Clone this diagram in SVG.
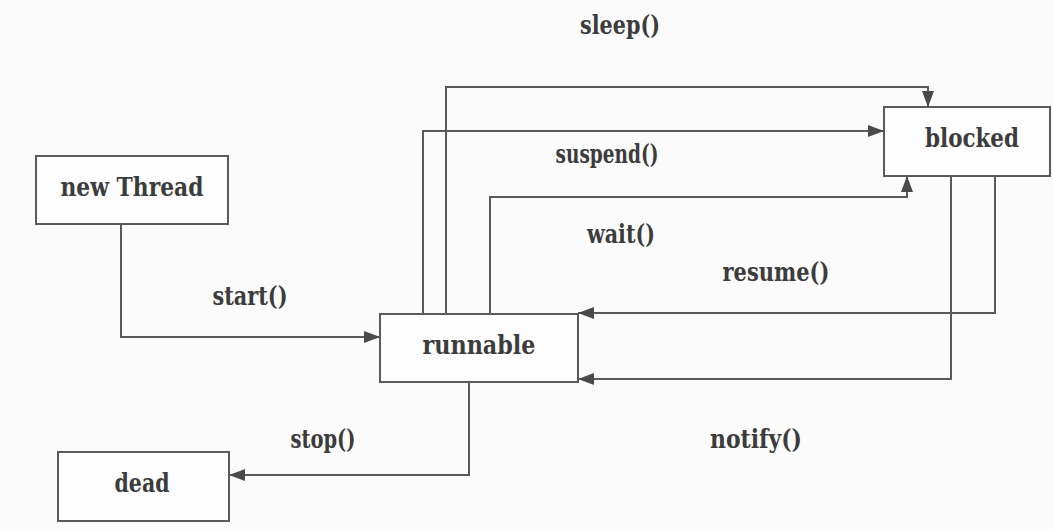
<svg xmlns="http://www.w3.org/2000/svg" width="1053" height="529" viewBox="0 0 1053 529">
<style>
.box{fill:#fdfdfd;stroke:#5a5a5a;stroke-width:2}
.t{font-family:'DejaVu Serif','Liberation Serif',serif;font-weight:bold;font-size:26px;fill:#3c3c3c;text-anchor:middle}
.c{fill:none;stroke:#5a5a5a;stroke-width:2;marker-end:url(#ah)}
</style>
<defs>
<marker id="ah" viewBox="0 0 16 12" refX="16" refY="6" markerWidth="16" markerHeight="12" markerUnits="userSpaceOnUse" orient="auto">
<path d="M0,0 L16,6 L0,12 Z" fill="#4a4a4a"/>
</marker>
</defs>
<rect width="1053" height="529" fill="#fbfbfb"/>
<g id="connectors">
<polyline class="c" points="121,224 121,337 380,337"/>
<polyline class="c" points="446,314 446,87 928,87 928,107"/>
<polyline class="c" points="423,314 423,131 884,131"/>
<polyline class="c" points="490,314 490,197 907,197 907,176"/>
<polyline class="c" points="995,176 995,313 578,313"/>
<polyline class="c" points="951,176 951,379 578,379"/>
<polyline class="c" points="469,382 469,475 229,475"/>
<text class="t" x="620" y="34" textLength="80" lengthAdjust="spacingAndGlyphs">sleep()</text>
<text class="t" x="607" y="163" textLength="103" lengthAdjust="spacingAndGlyphs">suspend()</text>
<text class="t" x="621" y="243" textLength="68" lengthAdjust="spacingAndGlyphs">wait()</text>
<text class="t" x="776" y="281" textLength="107" lengthAdjust="spacingAndGlyphs">resume()</text>
<text class="t" x="250" y="305" textLength="75" lengthAdjust="spacingAndGlyphs">start()</text>
<text class="t" x="323" y="448" textLength="65" lengthAdjust="spacingAndGlyphs">stop()</text>
<text class="t" x="756" y="448" textLength="92" lengthAdjust="spacingAndGlyphs">notify()</text>
</g>
<g id="newThread">
<rect class="box" x="36" y="156" width="192" height="68"/>
<text class="t" x="132" y="196" textLength="143" lengthAdjust="spacingAndGlyphs">new Thread</text>
</g>
<g id="runnable">
<rect class="box" x="380" y="314" width="198" height="68"/>
<text class="t" x="479" y="354" textLength="113" lengthAdjust="spacingAndGlyphs">runnable</text>
</g>
<g id="blocked">
<rect class="box" x="884" y="107" width="166" height="69"/>
<text class="t" x="972" y="147" textLength="94" lengthAdjust="spacingAndGlyphs">blocked</text>
</g>
<g id="dead">
<rect class="box" x="58" y="452" width="171" height="69"/>
<text class="t" x="142" y="492" textLength="55" lengthAdjust="spacingAndGlyphs">dead</text>
</g>
</svg>
